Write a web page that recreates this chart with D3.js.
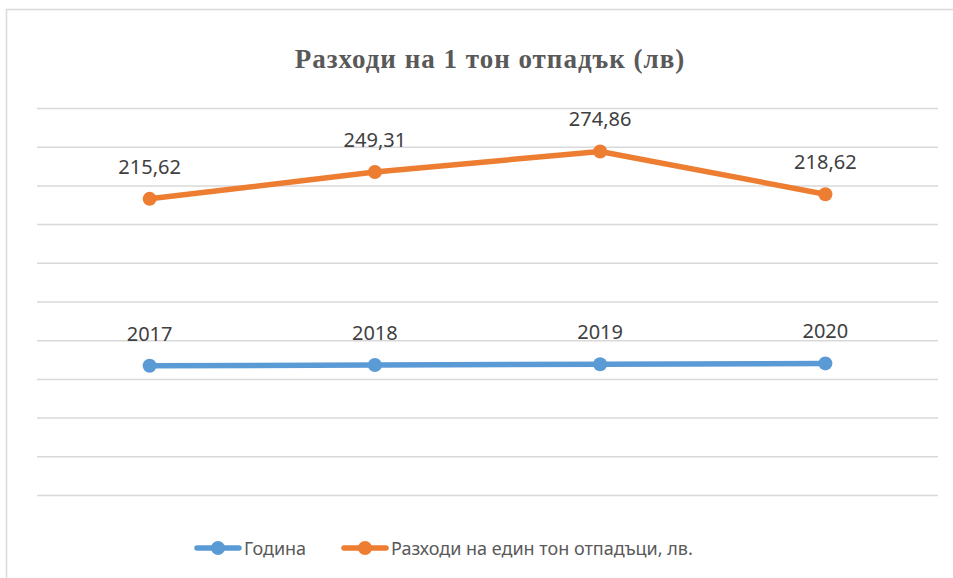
<!DOCTYPE html>
<html>
<head>
<meta charset="utf-8">
<script src="https://cdn.jsdelivr.net/npm/d3@7"></script>
<style>
  body { margin: 0; background: #fff; }
</style>
</head>
<body>
<div id="chart"></div>
<script>
// Data
const years = [2017, 2018, 2019, 2020];
const costs = [215.62, 249.31, 274.86, 218.62];
const seriesNames = ['Година', 'Разходи на един тон отпадъци, лв.'];
const yTicks = d3.range(1850, 2351, 50);

function draw() {
    // Dimension
    let dimensions = {
        width: 953,
        height: 578,
        left: 37,
        right: 938,
        top: 108,
        bottom: 495,
    };

    const colors = ['#5B9BD5', '#ED7D31'];
    const bgLocale = d3.formatLocale({ decimal: ',', thousands: '', grouping: [3], currency: ['', ''] });
    const fmtCost = bgLocale.format('.2f');

    // stacked line (Excel "stacked line" type)
    const rows = years.map((y, i) => ({ year: String(y), a: y, b: costs[i] }));
    const stackData = d3.stack().keys(['a', 'b'])(rows);

    const svg = d3.select('#chart')
        .append('svg')
        .attr('width', dimensions.width)
        .attr('height', dimensions.height);

    // chart border
    svg.append('rect')
        .attr('x', 6.5)
        .attr('y', 9.5)
        .attr('width', 960)
        .attr('height', 600)
        .attr('fill', '#fff')
        .attr('stroke', '#d9d9d9')
        .attr('stroke-width', 1.5);

    // Title
    svg.append('text')
        .attr('x', 490)
        .attr('y', 68)
        .attr('text-anchor', 'middle')
        .attr('font-family', '"Liberation Serif", serif')
        .attr('font-weight', 'bold')
        .attr('font-size', 27)
        .attr('letter-spacing', 1)
        .attr('fill', '#595959')
        .text('Разходи на 1 тон отпадък (лв)');

    // Scales
    const xScale = d3.scalePoint()
        .domain(rows.map(d => d.year))
        .range([dimensions.left, dimensions.right])
        .padding(0.5);

    const yScale = d3.scaleLinear()
        .domain([yTicks[0], yTicks[yTicks.length - 1]])
        .range([dimensions.bottom, dimensions.top]);

    // Gridlines
    const yAxis = d3.axisLeft(yScale)
        .tickValues(yTicks)
        .tickSize(-(dimensions.right - dimensions.left))
        .tickFormat('');
    const grid = svg.append('g')
        .attr('transform', `translate(${dimensions.left}, 0)`)
        .call(yAxis);
    grid.select('.domain').remove();
    grid.selectAll('.tick line')
        .attr('stroke', '#d9d9d9')
        .attr('stroke-width', 1.5);

    // Lines
    const line = d3.line()
        .x(d => xScale(d.data.year))
        .y(d => yScale(d[1]));

    const series = svg.append('g')
        .selectAll('g')
        .data(stackData)
        .join('g');

    series.append('path')
        .attr('d', d => line(d))
        .attr('fill', 'none')
        .attr('stroke', (d, i) => colors[i])
        .attr('stroke-width', 5.5)
        .attr('stroke-linejoin', 'round')
        .attr('stroke-linecap', 'round');

    series.selectAll('circle')
        .data((d, i) => d.map(p => ({ p, i })))
        .join('circle')
        .attr('cx', d => xScale(d.p.data.year))
        .attr('cy', d => yScale(d.p[1]))
        .attr('r', 7)
        .attr('fill', d => colors[d.i]);

    series.selectAll('text')
        .data((d, i) => d.map(p => ({ p, i })))
        .join('text')
        .attr('x', d => xScale(d.p.data.year))
        .attr('y', d => yScale(d.p[1]) - 25)
        .attr('text-anchor', 'middle')
        .attr('font-family', '"Noto Sans", sans-serif')
        .attr('font-size', 20)
        .attr('fill', '#404040')
        .text(d => d.i === 0 ? d.p.data.a : fmtCost(d.p.data.b));

    // Legend
    const legendX = [195, 342];
    const legend = svg.append('g')
        .selectAll('g')
        .data(seriesNames)
        .join('g')
        .attr('transform', (d, i) => `translate(${legendX[i]}, 548)`);

    legend.append('line')
        .attr('x1', 2).attr('x2', 44)
        .attr('stroke', (d, i) => colors[i])
        .attr('stroke-width', 5.5)
        .attr('stroke-linecap', 'round');
    legend.append('circle')
        .attr('cx', 23)
        .attr('r', 7)
        .attr('fill', (d, i) => colors[i]);
    legend.append('text')
        .attr('x', 49)
        .attr('y', 7)
        .attr('font-family', '"Noto Sans", sans-serif')
        .attr('font-size', 18)
        .attr('fill', '#595959')
        .text(d => d);
}

draw();
</script>
</body>
</html>
